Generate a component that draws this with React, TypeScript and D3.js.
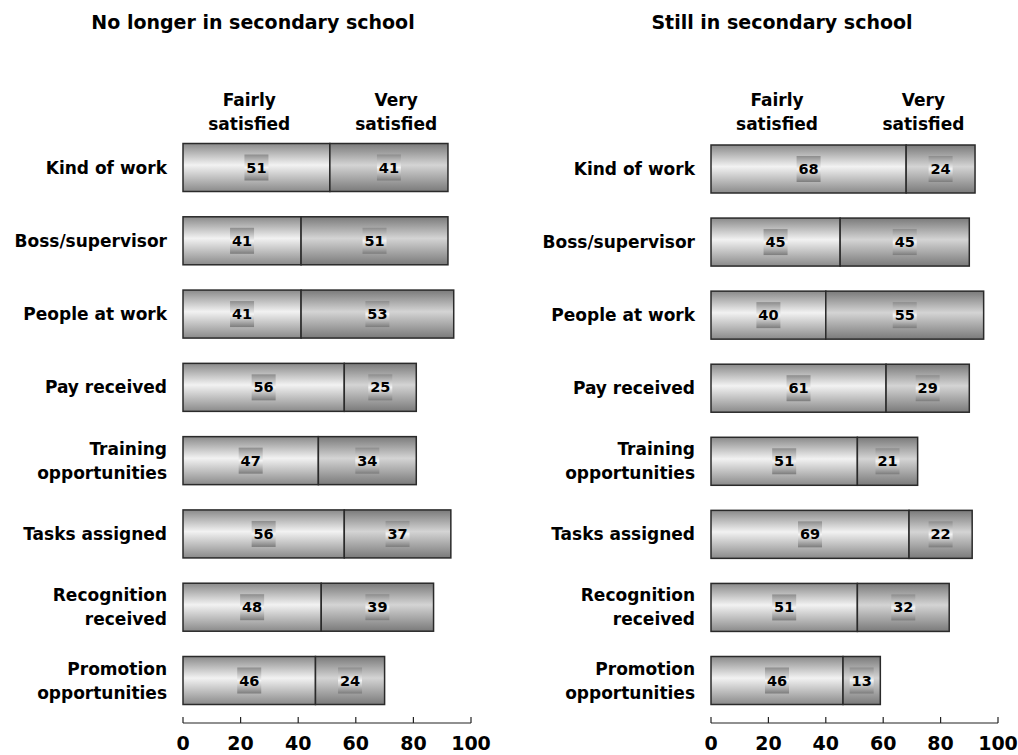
import React from "react";
import * as d3 from "d3";

const categories = [
  ["Kind of work"],
  ["Boss/supervisor"],
  ["People at work"],
  ["Pay received"],
  ["Training", "opportunities"],
  ["Tasks assigned"],
  ["Recognition", "received"],
  ["Promotion", "opportunities"],
];

const leftFairly = [51, 41, 41, 56, 47, 56, 48, 46];
const leftVery = [41, 51, 53, 25, 34, 37, 39, 24];
const rightFairly = [68, 45, 40, 61, 51, 69, 51, 46];
const rightVery = [24, 45, 55, 29, 21, 22, 32, 13];
const ticks = [0, 20, 40, 60, 80, 100];

const font = "'DejaVu Sans', Verdana, sans-serif";

type PanelProps = {
  title: string;
  titleX: number;
  x0: number;
  x1: number;
  yTop: number;
  yBottom: number;
  fairly: number[];
  very: number[];
  labelRight: number;
};

const Panel = (props: PanelProps) => {
  const x = d3.scaleLinear().domain([0, 100]).range([props.x0, props.x1]);
  const y = d3
    .scalePoint<number>()
    .domain(d3.range(categories.length))
    .range([props.yTop, props.yBottom]);
  const barH = 48;
  const axisY = 723;

  return (
    <g>
      <text x={props.titleX} y={29} textAnchor="middle" fontSize={19} fontWeight="bold">
        {props.title}
      </text>
      <text x={x(23)} y={106} textAnchor="middle" fontSize={17} fontWeight="bold">Fairly</text>
      <text x={x(23)} y={130} textAnchor="middle" fontSize={17} fontWeight="bold">satisfied</text>
      <text x={x(74)} y={106} textAnchor="middle" fontSize={17} fontWeight="bold">Very</text>
      <text x={x(74)} y={130} textAnchor="middle" fontSize={17} fontWeight="bold">satisfied</text>

      {categories.map((lines, i) => {
        const cy = y(i) as number;
        const f = props.fairly[i];
        const v = props.very[i];
        const segs = [
          { a: 0, b: f, grad: "url(#gFair)", val: f },
          { a: f, b: f + v, grad: "url(#gVery)", val: v },
        ];
        return (
          <g key={i}>
            {lines.map((t, j) => (
              <text
                key={j}
                x={props.labelRight}
                y={cy + 6 + (j - (lines.length - 1) / 2) * 24}
                textAnchor="end"
                fontSize={17}
                fontWeight="bold"
              >
                {t}
              </text>
            ))}
            {segs.map((s, k) => (
              <rect
                key={k}
                x={x(s.a)}
                y={cy - barH / 2}
                width={x(s.b) - x(s.a)}
                height={barH}
                fill={s.grad}
                stroke="#2a2a2a"
                strokeWidth={1.5}
              />
            ))}
            {segs.map((s, k) => {
              const mx = (x(s.a) + x(s.b)) / 2;
              return (
                <g key={"l" + k}>
                  <rect x={mx - 12} y={cy - 13} width={24} height={26} fill="url(#gBox)" />
                  <text x={mx} y={cy + 5} textAnchor="middle" fontSize={14.5} fontWeight="bold">
                    {s.val}
                  </text>
                </g>
              );
            })}
          </g>
        );
      })}

      <line x1={x(0)} x2={x(100)} y1={axisY} y2={axisY} stroke="#222" strokeWidth={1.2} />
      {ticks.map((t) => (
        <g key={t}>
          <line x1={x(t)} x2={x(t)} y1={axisY - 6} y2={axisY} stroke="#222" strokeWidth={1.2} />
          <text x={x(t)} y={750} textAnchor="middle" fontSize={19} fontWeight="bold">
            {t}
          </text>
        </g>
      ))}
    </g>
  );
};

const App = () => {
  return (
    <svg
      width={1018}
      height={755}
      style={{ position: "absolute", left: 0, top: 0, fontFamily: font }}
    >
      <defs>
        <linearGradient id="gFair" x1="0" y1="0" x2="0" y2="1">
          <stop offset="0%" stopColor="#8a8a8a" />
          <stop offset="45%" stopColor="#f2f2f2" />
          <stop offset="100%" stopColor="#8a8a8a" />
        </linearGradient>
        <linearGradient id="gVery" x1="0" y1="0" x2="0" y2="1">
          <stop offset="0%" stopColor="#7a7a7a" />
          <stop offset="45%" stopColor="#d4d4d4" />
          <stop offset="100%" stopColor="#7a7a7a" />
        </linearGradient>
        <linearGradient id="gBox" x1="0" y1="0" x2="0" y2="1">
          <stop offset="0%" stopColor="#8c8c8c" />
          <stop offset="50%" stopColor="#f4f4f4" />
          <stop offset="100%" stopColor="#7c7c7c" />
        </linearGradient>
      </defs>
      <Panel
        title="No longer in secondary school"
        titleX={253}
        x0={183}
        x1={471}
        yTop={167.5}
        yBottom={680.5}
        fairly={leftFairly}
        very={leftVery}
        labelRight={167}
      />
      <Panel
        title="Still in secondary school"
        titleX={782}
        x0={711}
        x1={998}
        yTop={169}
        yBottom={680.5}
        fairly={rightFairly}
        very={rightVery}
        labelRight={695}
      />
    </svg>
  );
};

export default App;
